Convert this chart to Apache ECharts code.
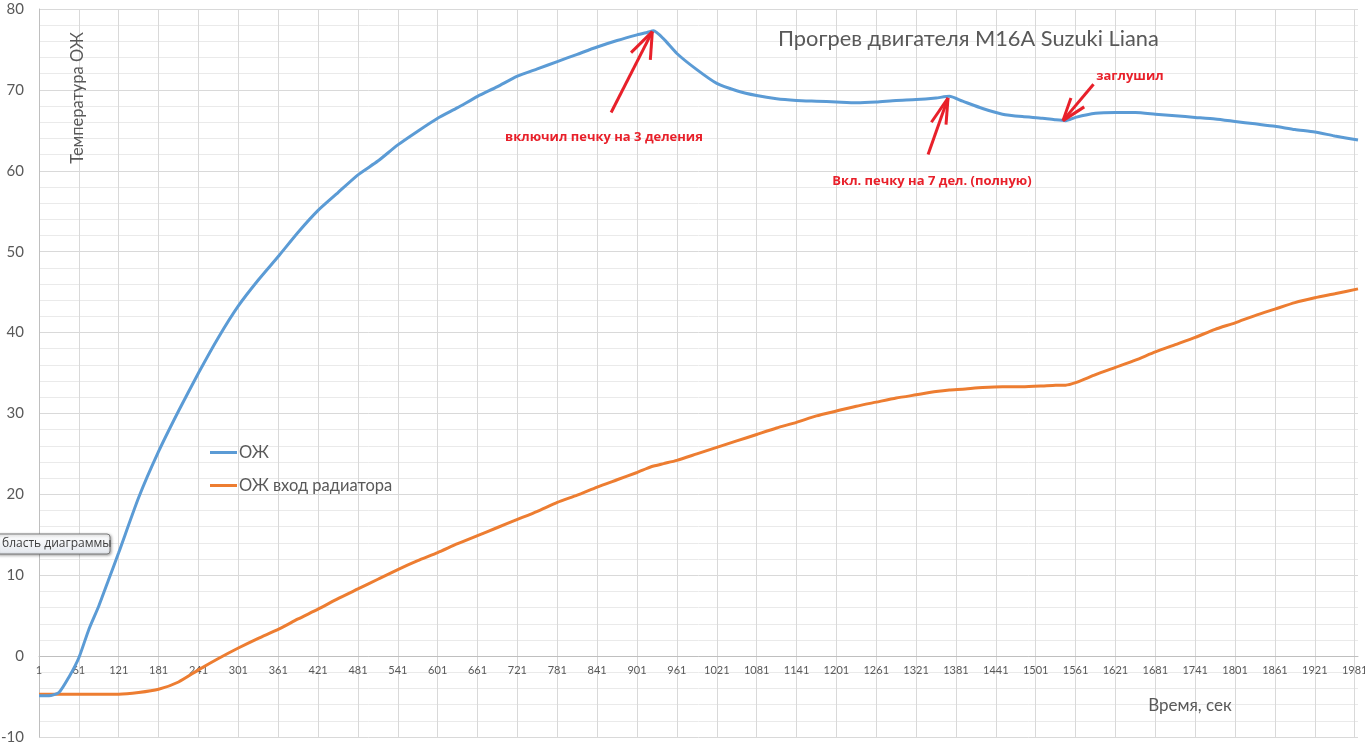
<!DOCTYPE html>
<html>
<head>
<meta charset="utf-8">
<script src="https://cdn.jsdelivr.net/npm/echarts@6/dist/echarts.min.js"></script>
<style>
html,body{margin:0;padding:0;background:#fff;}
#chart{width:1365px;height:746px;}
</style>
</head>
<body>
<div id="chart"></div>
<script>
// time, s (as labelled on the axis, first sample = 1)
const times = [
  1, 16, 31, 46, 61, 76, 91, 106, 121, 151,
  181, 211, 241, 271, 301, 331, 361, 391, 421, 451,
  481, 511, 541, 571, 601, 631, 661, 691, 721, 751,
  781, 811, 841, 871, 901, 916, 926, 941, 961, 991,
  1021, 1051, 1081, 1111, 1141, 1171, 1201, 1231, 1261, 1291,
  1321, 1351, 1371, 1391, 1421, 1451, 1481, 1511, 1531, 1546,
  1561, 1591, 1621, 1651, 1681, 1711, 1741, 1771, 1801, 1831,
  1861, 1891, 1921, 1951, 1986
];
// ОЖ
const coolant = [
  -4.9, -4.9, -4.5, -2.6, -0.2, 3.3, 6.2, 9.5, 12.8, 19.6,
  25.3, 30.3, 35.0, 39.4, 43.3, 46.5, 49.4, 52.4, 55.1, 57.3,
  59.5, 61.2, 63.2, 64.9, 66.5, 67.8, 69.2, 70.4, 71.7, 72.6,
  73.5, 74.4, 75.3, 76.1, 76.8, 77.1, 77.3, 76.3, 74.5, 72.5,
  70.8, 69.9, 69.3, 68.9, 68.7, 68.6, 68.5, 68.4, 68.5, 68.7,
  68.8, 69.0, 69.2, 68.6, 67.7, 67.0, 66.7, 66.5, 66.3, 66.2,
  66.6, 67.1, 67.2, 67.2, 67.0, 66.8, 66.6, 66.4, 66.1, 65.8,
  65.5, 65.1, 64.8, 64.3, 63.8
];
// ОЖ вход радиатора
const radiatorIn = [
  -4.7, -4.7, -4.7, -4.7, -4.7, -4.7, -4.7, -4.7, -4.7, -4.5,
  -4.1, -3.2, -1.7, -0.3, 1.0, 2.2, 3.3, 4.6, 5.8, 7.1,
  8.3, 9.5, 10.7, 11.8, 12.8, 13.9, 14.9, 15.9, 16.9, 17.9,
  19.0, 19.9, 20.9, 21.8, 22.7, 23.2, 23.5, 23.8, 24.2, 25.0,
  25.8, 26.6, 27.4, 28.2, 28.9, 29.7, 30.3, 30.9, 31.4, 31.9,
  32.3, 32.7, 32.9, 33.0, 33.2, 33.3, 33.3, 33.4, 33.5, 33.5,
  33.8, 34.8, 35.7, 36.6, 37.6, 38.5, 39.4, 40.4, 41.2, 42.1,
  42.9, 43.7, 44.3, 44.8, 45.4
];
const seriesNames = ['ОЖ', 'ОЖ вход радиатора'];
const yTicks = { min: -10, max: 80, step: 10 };
const xTickStep = 60;
const lastTime = 1986;

// hand-drawn red arrows, as [time, value] points: shaft, then two barbs
const arrows = [
  [[862, 67.2], [924, 77.2]], [[892, 74.6], [924, 77.2]], [[921, 73.7], [924, 77.2]],
  [[1339, 62.0], [1369, 69.0]], [[1344, 66.0], [1369, 69.0]], [[1366, 65.7], [1369, 69.0]],
  [[1588, 70.7], [1542, 66.2]], [[1554, 69.0], [1542, 66.2]], [[1574, 67.9], [1542, 66.2]]
];

const FONT = 'Lato, "Open Sans", sans-serif';
const toXY = (arr) => times.map((t, i) => [t - 1, arr[i]]);

const GRID = { left: 39, right: 7, top: 9, bottom: 9 };
const chartH = 746;
// the x axis sits on the y = 0 line (as in the original Excel chart)
const plotH = chartH - GRID.top - GRID.bottom;
const zeroOffset = -plotH * (0 - yTicks.min) / (yTicks.max - yTicks.min);

const chart = echarts.init(document.getElementById('chart'), null, { renderer: 'canvas' });
chart.setOption({
  animation: false,
  backgroundColor: '#ffffff',
  title: {
    text: 'Прогрев двигателя M16A Suzuki Liana',
    left: 778, top: 28, padding: 0,
    textStyle: { fontFamily: FONT, fontSize: 21.8, fontWeight: 'normal', color: '#595959' }
  },
  legend: {
    orient: 'vertical', left: 210, top: 444, itemGap: 16, padding: 0,
    icon: 'rect', itemWidth: 27, itemHeight: 3,
    data: seriesNames,
    textStyle: { fontFamily: FONT, fontSize: 16.5, color: '#595959', lineHeight: 16, padding: [0, 0, 0, -3] }
  },
  grid: Object.assign({ containLabel: false, outerBoundsMode: 'none' }, GRID),
  xAxis: {
    type: 'value', min: 0, max: lastTime - 1, interval: xTickStep,
    offset: zeroOffset,
    axisLine: { show: true, onZero: false, lineStyle: { color: '#bfbfbf', width: 1 } },
    axisTick: { show: false },
    axisLabel: {
      margin: 9, color: '#595959', fontFamily: FONT, fontSize: 11,
      showMaxLabel: false,
      formatter: (v) => String(v + 1)
    },
    splitLine: { show: true, showMaxLine: false, lineStyle: { color: '#d9d9d9', width: 1 } }
  },
  yAxis: {
    type: 'value', min: yTicks.min, max: yTicks.max, interval: yTicks.step,
    axisLine: { show: true, onZero: false, lineStyle: { color: '#bfbfbf', width: 1 } },
    axisTick: { show: false },
    axisLabel: { margin: 15, color: '#595959', fontFamily: FONT, fontSize: 15 },
    splitLine: { show: true, lineStyle: { color: '#d9d9d9', width: 1 } },
    minorTick: { show: false, splitNumber: 5 },
    minorSplitLine: { show: true, lineStyle: { color: '#eaeaea', width: 1 } }
  },
  series: [
    {
      name: seriesNames[0], type: 'line', data: toXY(coolant),
      showSymbol: false, symbol: 'none', smooth: 0.2,
      color: '#5B9BD5', lineStyle: { width: 3, color: '#5B9BD5' }, z: 3,
      markLine: {
        silent: true, symbol: ['none', 'none'], animation: false,
        label: { show: false },
        lineStyle: { color: '#E8202A', width: 3, type: 'solid' },
        data: arrows.map(([a, b]) => [{ coord: [a[0] - 1, a[1]] }, { coord: [b[0] - 1, b[1]] }])
      }
    },
    {
      name: seriesNames[1], type: 'line', data: toXY(radiatorIn),
      showSymbol: false, symbol: 'none', smooth: 0.2,
      color: '#ED7D31', lineStyle: { width: 3, color: '#ED7D31' }, z: 2
    }
  ],
  graphic: [
    {
      type: 'text', x: 78, y: 98, rotation: Math.PI / 2, z: 100,
      style: { text: 'Температура ОЖ', fontFamily: FONT, fontSize: 16.5, fill: '#595959',
               textAlign: 'center', textVerticalAlign: 'middle' }
    },
    {
      type: 'text', x: 1190, y: 706, z: 100,
      style: { text: 'Время, сек', fontFamily: FONT, fontSize: 17, fill: '#595959',
               textAlign: 'center', textVerticalAlign: 'middle' }
    },
    {
      type: 'text', x: 604, y: 137, z: 100,
      style: { text: 'включил печку на 3 деления', fontFamily: '"Open Sans", sans-serif', fontSize: 13, fontWeight: 'bold',
               fill: '#E8202A', textAlign: 'center', textVerticalAlign: 'middle' }
    },
    {
      type: 'text', x: 932, y: 181, z: 100,
      style: { text: 'Вкл. печку на 7 дел. (полную)', fontFamily: '"Open Sans", sans-serif', fontSize: 13, fontWeight: 'bold',
               fill: '#E8202A', textAlign: 'center', textVerticalAlign: 'middle' }
    },
    {
      type: 'text', x: 1130, y: 76, z: 100,
      style: { text: 'заглушил', fontFamily: '"Open Sans", sans-serif', fontSize: 13, fontWeight: 'bold',
               fill: '#E8202A', textAlign: 'center', textVerticalAlign: 'middle' }
    },
    {
      type: 'rect', z: 100,
      shape: { x: -4, y: 534, width: 114, height: 20, r: 3 },
      style: {
        fill: new echarts.graphic.LinearGradient(0, 0, 0, 1, [
          { offset: 0, color: '#ffffff' }, { offset: 1, color: '#e4e8ee' }
        ]),
        stroke: '#7a7a7a', lineWidth: 1,
        shadowBlur: 3, shadowColor: 'rgba(0,0,0,0.35)', shadowOffsetX: 1, shadowOffsetY: 1
      }
    },
    {
      type: 'text', x: 2, y: 544, z: 101,
      style: { text: 'бласть диаграммы', fontFamily: '"Open Sans", sans-serif', fontSize: 12, fill: '#3c3c3c',
               textVerticalAlign: 'middle' }
    }
  ]
});
</script>
</body>
</html>
